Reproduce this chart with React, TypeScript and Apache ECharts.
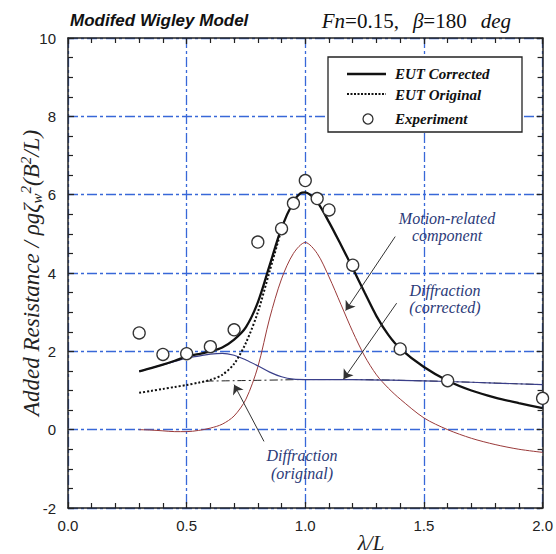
import React, { useEffect, useRef } from "react";
import * as echarts from "echarts";

// Experiment points
const expLambda = [0.3, 0.4, 0.5, 0.6, 0.7, 0.8, 0.9, 0.95, 1.0, 1.05, 1.1, 1.2, 1.4, 1.6, 2.0];
const expValues = [2.47, 1.92, 1.94, 2.12, 2.55, 4.79, 5.13, 5.78, 6.36, 5.9, 5.61, 4.2, 2.06, 1.25, 0.8];

// EUT Corrected
const corrLambda = [0.3, 0.35, 0.4, 0.45, 0.5, 0.55, 0.6, 0.65, 0.7, 0.75, 0.8, 0.85, 0.9, 0.95, 0.98, 1.0, 1.02, 1.05, 1.1, 1.15, 1.2, 1.25, 1.3, 1.35, 1.4, 1.5, 1.6, 1.7, 1.8, 1.9, 2.0];
const corrValues = [1.49, 1.57, 1.66, 1.76, 1.87, 1.93, 2.0, 2.1, 2.3, 2.62, 3.25, 4.2, 5.15, 5.82, 6.04, 6.06, 6.0, 5.82, 5.3, 4.72, 4.12, 3.5, 2.9, 2.42, 2.07, 1.6, 1.25, 1.0, 0.82, 0.68, 0.55];

// EUT Original
const origLambda = [0.3, 0.35, 0.4, 0.45, 0.5, 0.55, 0.6, 0.65, 0.7, 0.75, 0.8, 0.85, 0.9];
const origValues = [0.94, 0.99, 1.04, 1.09, 1.14, 1.2, 1.27, 1.4, 1.68, 2.22, 3.0, 4.05, 5.12];

// Diffraction (corrected)
const diffCLambda = [0.3, 0.35, 0.4, 0.45, 0.5, 0.55, 0.6, 0.65, 0.7, 0.75, 0.8, 0.85, 0.9, 0.95, 1.0, 1.2, 1.4, 1.6, 1.8, 2.0];
const diffCValues = [1.49, 1.57, 1.66, 1.74, 1.83, 1.88, 1.93, 1.95, 1.9, 1.78, 1.63, 1.47, 1.35, 1.29, 1.28, 1.28, 1.26, 1.23, 1.19, 1.15];

// Diffraction (original)
const diffOLambda = [0.58, 0.7, 0.8, 0.9, 1.0, 1.2, 1.4, 1.6, 1.8, 2.0];
const diffOValues = [1.24, 1.25, 1.26, 1.27, 1.28, 1.28, 1.26, 1.23, 1.19, 1.15];

// Motion-related component
const motLambda = [0.3, 0.35, 0.4, 0.45, 0.5, 0.55, 0.6, 0.65, 0.7, 0.75, 0.8, 0.85, 0.9, 0.95, 1.0, 1.05, 1.1, 1.15, 1.2, 1.25, 1.3, 1.35, 1.4, 1.5, 1.6, 1.7, 1.8, 1.9, 2.0];
const motValues = [0.0, -0.01, -0.03, -0.05, -0.05, -0.02, 0.04, 0.14, 0.35, 0.78, 1.6, 2.85, 3.85, 4.5, 4.78, 4.5, 3.9, 3.2, 2.5, 1.88, 1.4, 1.06, 0.78, 0.3, 0.0, -0.22, -0.38, -0.5, -0.58];

// Annotation arrows (data coordinates: tail -> head)
const arrowMotion = [[1.379, 4.93], [1.17, 3.04]];
const arrowDiffCorr = [[1.385, 3.23], [1.161, 1.29]];
const arrowDiffOrig = [[0.826, -0.3], [0.7, 1.15]];

const xTicks = { min: 0, max: 2, interval: 0.5 };
const yTicks = { min: -2, max: 10, interval: 2 };

const zip = (xs: number[], ys: number[]) => xs.map((x, i) => [x, ys[i]]);

const AXIS = "#222";
const GRIDBLUE = "#3868d8";
const ANN = "#2b3a78";
const SERIF = "'Liberation Serif', 'DejaVu Serif', serif";
const SANS = "'Liberation Sans', Arial, sans-serif";

export default function App() {
  const ref = useRef<HTMLDivElement>(null);
  useEffect(() => {
    if (!ref.current) return;
    const chart = echarts.init(ref.current, undefined, { renderer: "svg" });
    const axisLine = () => ({ show: true, onZero: false, lineStyle: { color: AXIS, width: 1.5 } });
    const tick = () => ({ show: true, inside: true, length: 6, lineStyle: { color: AXIS, width: 1.3 } });
    const minor = (n: number) => ({ show: true, splitNumber: n, length: 5, lineStyle: { color: AXIS, width: 1.2 } });
    const split = () => ({ show: true, lineStyle: { color: GRIDBLUE, width: 1.3, type: [10, 3, 3, 3], opacity: 1 } });
    const arrowSeries = (coords: number[][]) => ({
      type: "lines",
      coordinateSystem: "cartesian2d",
      symbol: ["none", "arrow"],
      symbolSize: [0, 9],
      lineStyle: { color: "#333", width: 1, opacity: 1 },
      z: 6,
      data: [{ coords }],
    });

    chart.setOption({
      animation: false,
      backgroundColor: "#fff",
      grid: { left: 68, right: 11, top: 38, bottom: 46, containLabel: false },
      xAxis: [
        {
          type: "value", ...xTicks, position: "bottom",
          axisLine: axisLine(), axisTick: tick(), minorTick: minor(5),
          axisLabel: { color: AXIS, fontFamily: SANS, fontSize: 15, margin: 10, formatter: (v: number) => v.toFixed(1) },
          splitLine: split(),
        },
        {
          type: "value", ...xTicks, position: "top",
          axisLine: axisLine(), axisTick: tick(), minorTick: minor(5),
          axisLabel: { show: false }, splitLine: { show: false },
        },
      ],
      yAxis: [
        {
          type: "value", ...yTicks, position: "left",
          axisLine: axisLine(), axisTick: tick(), minorTick: minor(4),
          axisLabel: { color: AXIS, fontFamily: SANS, fontSize: 15, margin: 12 },
          splitLine: split(),
        },
        {
          type: "value", ...yTicks, position: "right",
          axisLine: axisLine(), axisTick: tick(), minorTick: minor(4),
          axisLabel: { show: false }, splitLine: { show: false },
        },
      ],
      series: [
        {
          name: "Motion-related", type: "line", data: zip(motLambda, motValues), smooth: 0.3,
          showSymbol: false, lineStyle: { color: "#9a3a3a", width: 1 }, z: 2,
        },
        {
          name: "Diffraction (original)", type: "line", data: zip(diffOLambda, diffOValues), smooth: 0.3,
          showSymbol: false, lineStyle: { color: "#222", width: 1, type: [8, 3, 2, 3] }, z: 2,
        },
        {
          name: "Diffraction (corrected)", type: "line", data: zip(diffCLambda, diffCValues), smooth: 0.3,
          showSymbol: false, lineStyle: { color: "#3a3f8a", width: 1.2 }, z: 3,
        },
        {
          name: "EUT Original", type: "line", data: zip(origLambda, origValues), smooth: 0.3,
          showSymbol: false, lineStyle: { color: "#111", width: 2, type: [2, 2] }, z: 4,
        },
        {
          name: "EUT Corrected", type: "line", data: zip(corrLambda, corrValues), smooth: 0.3,
          showSymbol: false, lineStyle: { color: "#111", width: 2.3 }, z: 5,
        },
        arrowSeries(arrowMotion),
        arrowSeries(arrowDiffCorr),
        arrowSeries(arrowDiffOrig),
        {
          name: "Experiment", type: "scatter", data: zip(expLambda, expValues),
          symbol: "circle", symbolSize: 12,
          itemStyle: { color: "#fff", borderColor: "#333", borderWidth: 1.3, opacity: 1 }, z: 8,
        },
      ],
      graphic: [
        {
          type: "text", left: 70, top: 12,
          style: { text: "Modifed Wigley Model", fontFamily: SANS, fontSize: 17, fontWeight: "bold", fontStyle: "italic", fill: "#111" },
        },
        {
          type: "text", x: 511, y: 21,
          style: {
            text: "{i|Fn}{r|=0.15,}{sp| }{i|β}{r|=180}{sp| }{i|deg}",
            align: "right", verticalAlign: "middle",
            rich: {
              i: { fontFamily: SERIF, fontSize: 21, fontStyle: "italic", fill: "#111" },
              r: { fontFamily: SERIF, fontSize: 21, fill: "#111" },
              sp: { fontFamily: SERIF, fontSize: 21, width: 14 },
            },
          },
        },
        {
          type: "text", x: 31, y: 273, rotation: Math.PI / 2,
          style: {
            text: "{t|Added Resistance / ρgζ}{sub|w}{sup|2}{t|(}{t|B}{sup|2}{t|/L)}",
            align: "center", verticalAlign: "middle",
            rich: {
              t: { fontFamily: SERIF, fontSize: 23, fontStyle: "italic", fill: "#222", lineHeight: 26, verticalAlign: "middle" },
              sup: { fontFamily: SERIF, fontSize: 15, fontStyle: "italic", fill: "#222", lineHeight: 26, verticalAlign: "top" },
              sub: { fontFamily: SERIF, fontSize: 15, fontStyle: "italic", fill: "#222", lineHeight: 26, verticalAlign: "bottom" },
            },
          },
        },
        {
          type: "text", x: 371, y: 543,
          style: { text: "λ/L", fontFamily: SERIF, fontSize: 21, fontStyle: "italic", fill: "#222", align: "center", verticalAlign: "middle" },
        },
        // Legend
        {
          type: "rect", shape: { x: 328, y: 57, width: 194, height: 75 },
          style: { fill: "#fff", stroke: "#222", lineWidth: 1.3 }, z: 10,
        },
        { type: "line", shape: { x1: 347, y1: 74, x2: 386, y2: 74 }, style: { stroke: "#111", lineWidth: 2.5 }, z: 11 },
        { type: "line", shape: { x1: 347, y1: 94, x2: 386, y2: 94 }, style: { stroke: "#111", lineWidth: 2, lineDash: [2, 1.5] }, z: 11 },
        { type: "circle", shape: { cx: 368, cy: 119, r: 5 }, style: { fill: "#fff", stroke: "#333", lineWidth: 1.3 }, z: 11 },
        {
          type: "text", x: 395, y: 74, z: 11,
          style: { text: "EUT Corrected", fontFamily: SERIF, fontSize: 15, fontWeight: "bold", fontStyle: "italic", fill: "#111", verticalAlign: "middle" },
        },
        {
          type: "text", x: 395, y: 95, z: 11,
          style: { text: "EUT Original", fontFamily: SERIF, fontSize: 15, fontWeight: "bold", fontStyle: "italic", fill: "#111", verticalAlign: "middle" },
        },
        {
          type: "text", x: 395, y: 119, z: 11,
          style: { text: "Experiment", fontFamily: SERIF, fontSize: 15, fontWeight: "bold", fontStyle: "italic", fill: "#111", verticalAlign: "middle" },
        },
        // Annotations
        {
          type: "text", x: 447, y: 227, z: 11,
          style: { text: "Motion-related\ncomponent", fontFamily: SERIF, fontSize: 16, fontStyle: "italic", fill: ANN, align: "center", verticalAlign: "middle", lineHeight: 17 },
        },
        {
          type: "text", x: 445, y: 299, z: 11,
          style: { text: "Diffraction\n(corrected)", fontFamily: SERIF, fontSize: 16, fontStyle: "italic", fill: ANN, align: "center", verticalAlign: "middle", lineHeight: 17 },
        },
        {
          type: "text", x: 302, y: 464, z: 11,
          style: { text: "Diffraction\n(original)", fontFamily: SERIF, fontSize: 16, fontStyle: "italic", fill: ANN, align: "center", verticalAlign: "middle", lineHeight: 18 },
        },
      ],
    });
    return () => chart.dispose();
  }, []);
  return <div ref={ref} style={{ width: 556, height: 554, position: "absolute", left: 0, top: 0 }} />;
}
